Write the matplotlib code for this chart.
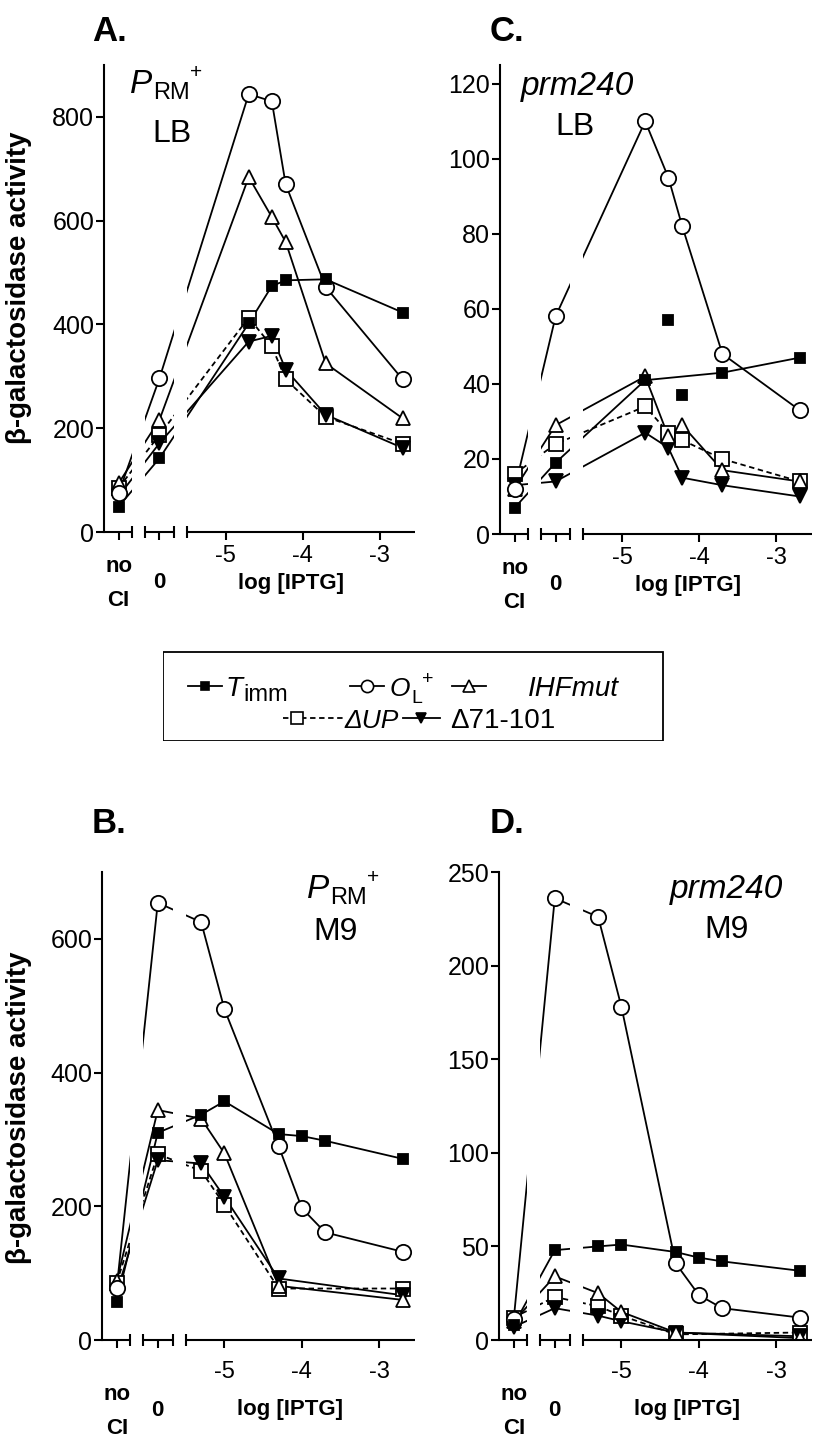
import numpy as np
import matplotlib
matplotlib.use('Agg')
import matplotlib.pyplot as plt
from matplotlib.patches import Rectangle

plt.rcParams['font.family'] = ['Liberation Sans', 'DejaVu Sans']

nan = np.nan

# log [IPTG] values; every series starts with (no CI, 0 IPTG)
log_lb = [-4.7, -4.4, -4.22, -3.7, -2.7]
log_m9 = [-5.3, -5.0, -4.3, -4.0, -3.7, -2.7]

# A: PRM+ LB
a_timm = [49, 142, 402, 474, 485, 487, 423]
a_ol = [75, 296, 844, 830, 670, 472, 294]
a_ihf = [94, 216, 684, 607, 559, 325, 219]
a_dup = [85, 187, 413, 358, 294, 222, 170]
a_d71 = [69, 171, 367, 378, 313, 226, 162]

# C: prm240 LB
c_timm = [7, 19, 41, 57, 37, 43, 47]
c_timm_unlinked = [3, 4]
c_ol = [12, 58, 110, 95, 82, 48, 33]
c_ihf = [12, 29, 42, 26, 29, 17, 14]
c_dup = [16, 24, 34, 27, 25, 20, 14]
c_d71 = [13, 14, 27, 23, 15, 13, 10]

# B: PRM+ M9
b_timm = [57, 310, 337, 357, 308, 305, 298, 271]
b_ol = [78, 654, 625, 495, 290, 197, 161, 132]
b_ihf = [88, 344, 331, 279, 81, nan, nan, 60]
b_dup = [86, 278, 253, 202, 77, nan, nan, 77]
b_d71 = [72, 269, 264, 214, 92, nan, nan, 67]

# D: prm240 M9
d_timm = [8, 48, 50, 51, 47, 44, 42, 37]
d_ol = [11, 236, 226, 178, 41, 24, 17, 12]
d_ihf = [10, 34, 25, 15, 4, nan, nan, 1]
d_dup = [12, 23, 18, 13, 3, nan, nan, 4]
d_d71 = [7, 17, 13, 10, 4, nan, nan, 2]

NOCI = -6.39
ZERO = -5.86
XLIM = (-6.58, -2.54)
BREAKS = [(-6.22, -6.05), (-5.67, -5.50)]

styles = {
    'timm': dict(marker='s', ms=7.5, mfc='black', ls='-'),
    'ol': dict(marker='o', ms=11, mfc='white', ls='-'),
    'ihf': dict(marker='^', ms=10.5, mfc='white', ls='-'),
    'dup': dict(marker='s', ms=10, mfc='white', ls=(0, (3, 2))),
    'd71': dict(marker='v', ms=9.5, mfc='black', ls='-'),
}

W, H = 820, 1448
PT = 72 / 100  # points per pixel
fig = plt.figure(figsize=(8.2, 14.48), dpi=100)
renderer = fig.canvas.get_renderer()


def draw_series(ax, logs, vals, key, unlinked=()):
    st = styles[key]
    x = np.array([NOCI, ZERO] + list(logs))
    y = np.array(vals, dtype=float)
    ok = ~np.isnan(y)
    link = ok.copy()
    for i in unlinked:
        link[i] = False
    ax.plot(x[link], y[link], color='black', lw=1.3, ls=st['ls'], zorder=2)
    ax.plot(x[ok], y[ok], ls='none', marker=st['marker'], ms=st['ms'],
            mfc=st['mfc'], mec='black', mew=1.3, zorder=4)


def setup(ax, ylim, yticks, tick_dy, no_dy, mid_dy, ci_dy):
    ax.set_xlim(*XLIM)
    ax.set_ylim(*ylim)
    ax.set_yticks(yticks)
    ax.spines['top'].set_visible(False)
    ax.spines['right'].set_visible(False)
    ax.spines['bottom'].set_visible(False)
    ax.spines['left'].set_linewidth(1.5)
    ax.tick_params(axis='y', length=6, width=1.5, labelsize=18, pad=1)
    ax.set_xticks([NOCI, ZERO, -5, -4, -3])
    ax.set_xticklabels(['', '', '-5', '-4', '-3'])
    ax.tick_params(axis='x', length=6, width=1.5, labelsize=17, pad=tick_dy)
    tr = ax.get_xaxis_transform()
    # white gaps where the axis is broken
    for x0, x1 in BREAKS:
        ax.axvspan(x0, x1, ymin=0.0, ymax=1, color='white', zorder=3, lw=0)
    segs = [(XLIM[0], BREAKS[0][0]), (BREAKS[0][1], BREAKS[1][0]), (BREAKS[1][1], XLIM[1])]
    for s0, s1 in segs:
        ax.plot([s0, s1], [0, 0], color='black', lw=1.5, transform=tr,
                clip_on=False, zorder=5, solid_capstyle='butt')
    caps = [BREAKS[0][0], BREAKS[0][1], BREAKS[1][0], BREAKS[1][1]]
    ax.plot(caps, [0] * 4, ls='none', marker='|', ms=9, mew=1.5, color='black',
            transform=tr, clip_on=False, zorder=5)
    for txt, x, dy in [('no', NOCI, no_dy), ('CI', NOCI, ci_dy), ('0', ZERO, mid_dy),
                       ('log [IPTG]', -4.15, mid_dy)]:
        ax.annotate(txt, xy=(x, 0), xycoords=tr, xytext=(0, -dy * PT),
                    textcoords='offset points', ha='center', va='center',
                    fontsize=16, fontweight='bold')


def axes_px(l, t, r, b):
    return fig.add_axes([l / W, 1 - b / H, (r - l) / W, (b - t) / H])


def seq_text(x, y, parts):
    # parts: (text, size, style, rise in px); x, y = start / baseline in px
    for txt, size, style, rise in parts:
        t = fig.text(x / W, 1 - (y - rise) / H, txt, fontsize=size, style=style,
                     ha='left', va='baseline')
        x = t.get_window_extent(renderer).x1 + 0.5


axA = axes_px(104, 65, 415, 532)
axC = axes_px(500, 65, 812, 534)
axB = axes_px(102, 872, 415, 1340)
axD = axes_px(499, 872, 812, 1340)

setup(axA, (0, 900), [0, 200, 400, 600, 800], 3, 35, 51, 68)
setup(axC, (0, 125), [0, 20, 40, 60, 80, 100, 120], 3, 35, 51, 68)
setup(axB, (0, 700), [0, 200, 400, 600], 9, 55, 70, 88)
setup(axD, (0, 250), [0, 50, 100, 150, 200, 250], 9, 55, 70, 88)

for key, vals in [('dup', a_dup), ('d71', a_d71), ('ihf', a_ihf), ('ol', a_ol), ('timm', a_timm)]:
    draw_series(axA, log_lb, vals, key)
for key, vals in [('dup', c_dup), ('d71', c_d71), ('ihf', c_ihf), ('ol', c_ol)]:
    draw_series(axC, log_lb, vals, key)
draw_series(axC, log_lb, c_timm, 'timm', c_timm_unlinked)
for key, vals in [('dup', b_dup), ('d71', b_d71), ('ihf', b_ihf), ('ol', b_ol), ('timm', b_timm)]:
    draw_series(axB, log_m9, vals, key)
for key, vals in [('dup', d_dup), ('d71', d_d71), ('ihf', d_ihf), ('ol', d_ol), ('timm', d_timm)]:
    draw_series(axD, log_m9, vals, key)

# panel letters
for lab, x, y in [('A.', 92, 41), ('C.', 490, 41), ('B.', 92, 833), ('D.', 490, 833)]:
    fig.text(x / W, 1 - y / H, lab, fontsize=25, fontweight='bold', va='baseline')

# strain / medium labels
prm_parts = [('P', 24, 'italic', 0), ('RM', 17, 'normal', -6), ('+', 15, 'normal', 15)]
seq_text(130, 93, prm_parts)
seq_text(307, 898, prm_parts)
fig.text(172 / W, 1 - 142 / H, 'LB', fontsize=23, ha='center', va='baseline')
fig.text(575 / W, 1 - 135 / H, 'LB', fontsize=23, ha='center', va='baseline')
fig.text(336 / W, 1 - 940 / H, 'M9', fontsize=23, ha='center', va='baseline')
fig.text(727 / W, 1 - 938 / H, 'M9', fontsize=23, ha='center', va='baseline')
fig.text(578 / W, 1 - 95 / H, 'prm240', fontsize=24, style='italic', ha='center', va='baseline')
fig.text(727 / W, 1 - 898 / H, 'prm240', fontsize=24, style='italic', ha='center', va='baseline')

for yc in [288, 1108]:
    fig.text(19 / W, 1 - yc / H, 'β-galactosidase activity', rotation=90,
             fontsize=20, fontweight='bold', ha='center', va='center')

# legend box
lg = axes_px(163, 651, 664, 741)
lg.set_xlim(163, 664)
lg.set_ylim(741, 651)
lg.axis('off')
lg.add_patch(Rectangle((163.5, 651.5), 500, 89, fill=False, lw=1.3, ec='black'))
handles = [
    ('timm', 188, 222, 205, 686),
    ('ol', 350, 384, 367, 686),
    ('ihf', 452, 486, 469, 686),
    ('dup', 283, 343, 297, 718),
    ('d71', 403, 440, 421, 718),
]
for key, x0, x1, xm, y in handles:
    st = styles[key]
    lg.plot([x0, x1], [y, y], color='black', lw=1.3, ls=st['ls'])
    lg.plot([xm], [y], ls='none', marker=st['marker'], ms=st['ms'] * 0.8,
            mfc=st['mfc'], mec='black', mew=1.2)

seq_text(226, 696, [('T', 20, 'italic', 0), ('imm', 17, 'normal', -5)])
seq_text(390, 696, [('O', 19, 'italic', 0), ('L', 14, 'normal', -7), ('+', 14, 'normal', 12)])
seq_text(528, 696, [('IHFmut', 20, 'italic', 0)])
seq_text(345, 728, [('ΔUP', 19, 'italic', 0)])
seq_text(450, 728, [('Δ71-101', 20, 'normal', 0)])

fig.savefig('out.png', dpi=100)
